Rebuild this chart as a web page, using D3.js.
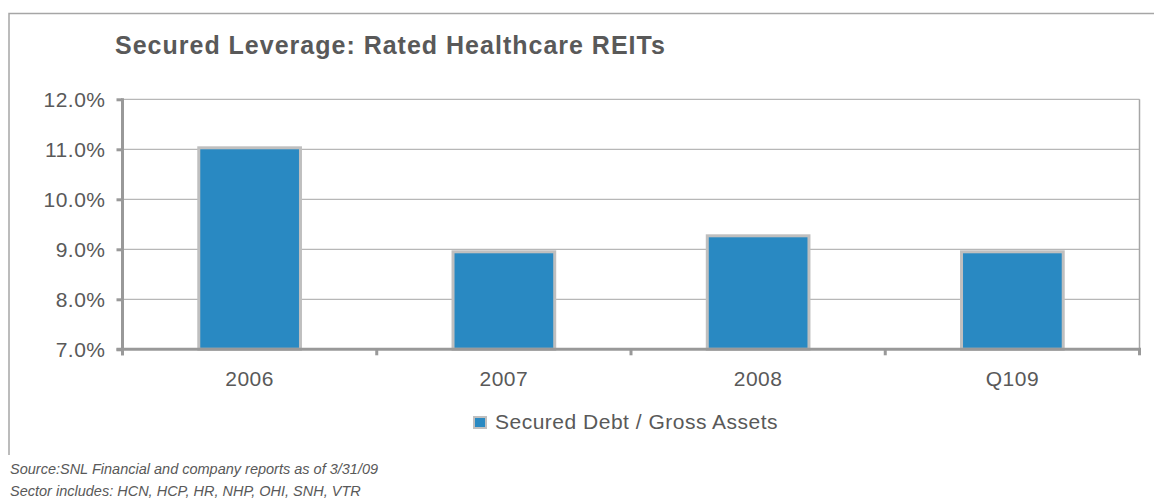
<!DOCTYPE html>
<html>
<head>
<meta charset="utf-8">
<script src="https://cdn.jsdelivr.net/npm/d3@7"></script>
<style>
  body { margin: 0; background: #fff; }
  text { font-family: "Liberation Sans", Arial, sans-serif; fill: #595959; }
</style>
</head>
<body>
<svg id="chart" width="1154" height="499"></svg>
<script>
var categories = ["2006", "2007", "2008", "Q109"];
var values = [11.03, 8.95, 9.27, 8.95];
var yTicks = [7, 8, 9, 10, 11, 12];
var seriesName = "Secured Debt / Gross Assets";
var title = "Secured Leverage: Rated Healthcare REITs";
var notes = ["Source:SNL Financial and company reports as of 3/31/09",
             "Sector includes: HCN, HCP, HR, NHP, OHI, SNH, VTR"];

var svg = d3.select("#chart");
var plotLeft = 122.5, plotRight = 1139.5, plotTop = 99.3, plotBottom = 349.3;

// outer frame (only top and left edges are inside the picture)
svg.append("path")
    .attr("d", "M9,455V13.5H1154")
    .attr("fill", "none")
    .attr("stroke", "#a6a6a6")
    .attr("stroke-width", 1.5);

svg.append("text")
    .attr("x", 115)
    .attr("y", 54)
    .attr("font-size", 25)
    .attr("font-weight", "bold")
    .attr("letter-spacing", 1)
    .text(title);

var y = d3.scaleLinear().domain([7, 12]).range([plotBottom, plotTop]);
var xCat = d3.scaleBand().domain(categories).range([plotLeft, plotRight]).padding(0);
var xBar = d3.scaleBand().domain(categories).range([plotLeft, plotRight])
    .paddingInner(0.6).paddingOuter(0.3);

// gridlines
svg.append("g").selectAll("line")
    .data(yTicks.slice(1))
    .enter().append("line")
    .attr("x1", plotLeft).attr("x2", plotRight)
    .attr("y1", function(d) { return y(d); })
    .attr("y2", function(d) { return y(d); })
    .attr("stroke", "#a6a6a6")
    .attr("stroke-width", 1);

// right edge of plot area
svg.append("line")
    .attr("x1", plotRight).attr("x2", plotRight)
    .attr("y1", plotTop).attr("y2", plotBottom)
    .attr("stroke", "#a6a6a6")
    .attr("stroke-width", 1.5);

// bars
svg.append("g").selectAll("rect")
    .data(values)
    .enter().append("rect")
    .attr("x", function(d, i) { return xBar(categories[i]); })
    .attr("width", xBar.bandwidth())
    .attr("y", function(d) { return y(d); })
    .attr("height", function(d) { return plotBottom - y(d); })
    .attr("fill", "#2989c2")
    .attr("stroke", "#bfbfbf")
    .attr("stroke-width", 3);

// y axis
var yAxis = svg.append("g")
    .attr("transform", "translate(" + plotLeft + ",0)")
    .call(d3.axisLeft(y).tickValues(yTicks).tickSize(6).tickPadding(11)
        .tickFormat(function(d) { return d.toFixed(1) + "%"; }));
yAxis.select(".domain").attr("stroke", "#999").attr("stroke-width", 3)
    .attr("d", "M0," + (plotTop - 1) + "V" + (plotBottom + 6));
yAxis.selectAll(".tick line").attr("stroke", "#999").attr("stroke-width", 3);
yAxis.selectAll(".tick text").attr("font-size", 21).attr("font-family", null)
    .attr("letter-spacing", 0.5)
    .attr("fill", "#595959").attr("dy", "0.35em");

// x axis
var xAxis = svg.append("g");
xAxis.append("line")
    .attr("x1", plotLeft - 6).attr("x2", plotRight + 1.5)
    .attr("y1", plotBottom).attr("y2", plotBottom)
    .attr("stroke", "#999").attr("stroke-width", 3);
xAxis.selectAll(".xtick")
    .data(categories.map(function(c) { return xCat(c); }).concat([plotRight]))
    .enter().append("line")
    .attr("x1", function(d) { return d; }).attr("x2", function(d) { return d; })
    .attr("y1", plotBottom).attr("y2", plotBottom + 6)
    .attr("stroke", "#999").attr("stroke-width", 3);
xAxis.selectAll("text")
    .data(categories)
    .enter().append("text")
    .attr("x", function(d) { return xCat(d) + xCat.bandwidth() / 2; })
    .attr("y", 386)
    .attr("text-anchor", "middle")
    .attr("font-size", 21)
    .attr("letter-spacing", 0.5)
    .text(function(d) { return d; });

// legend
var legend = svg.append("g").attr("transform", "translate(473,416)");
legend.append("rect")
    .attr("x", 1).attr("y", 1).attr("width", 12).attr("height", 11)
    .attr("fill", "#2989c2").attr("stroke", "#bfbfbf").attr("stroke-width", 2);
legend.append("text")
    .attr("x", 22).attr("y", 13)
    .attr("font-size", 21)
    .attr("letter-spacing", 0.5)
    .text(seriesName);

// footnotes
svg.append("g").selectAll("text")
    .data(notes)
    .enter().append("text")
    .attr("x", 10)
    .attr("y", function(d, i) { return 474 + i * 22; })
    .attr("font-size", 14.5)
    .attr("font-style", "italic")
    .text(function(d) { return d; });
</script>
</body>
</html>
